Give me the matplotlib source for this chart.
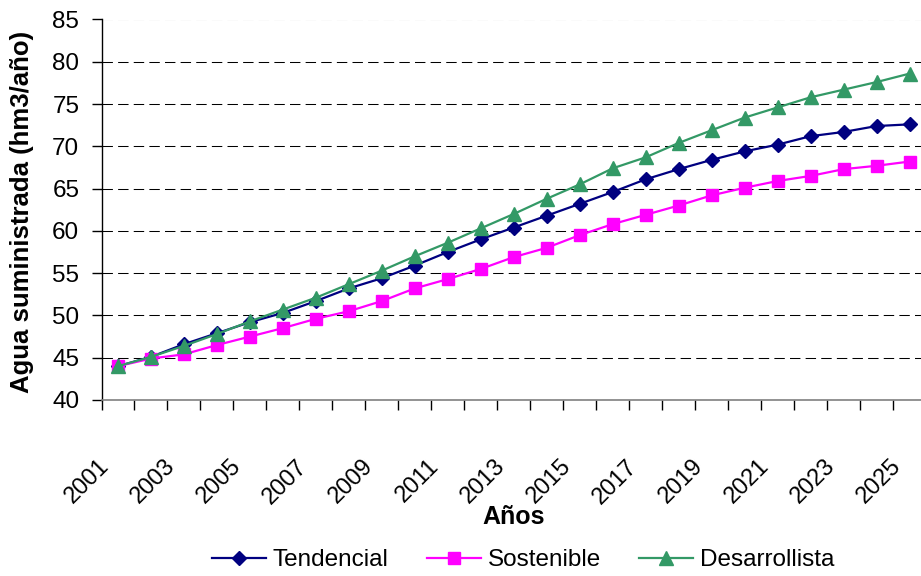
import matplotlib
matplotlib.use("Agg")
import matplotlib.pyplot as plt
from matplotlib.ticker import FixedLocator, NullFormatter
from matplotlib.transforms import ScaledTranslation

plt.rcParams["font.family"] = ["Liberation Sans", "DejaVu Sans"]

years = list(range(2001, 2026))
tendencial = [44.0, 45.1, 46.6, 47.9, 49.2, 50.3, 51.7, 53.2, 54.4, 55.9,
              57.5, 59.0, 60.4, 61.8, 63.2, 64.6, 66.1, 67.3, 68.4, 69.4,
              70.2, 71.2, 71.7, 72.4, 72.6]
sostenible = [44.0, 44.9, 45.4, 46.5, 47.5, 48.5, 49.6, 50.5, 51.7, 53.2,
              54.3, 55.5, 56.9, 58.0, 59.5, 60.8, 61.9, 63.0, 64.2, 65.1,
              65.9, 66.5, 67.3, 67.7, 68.2]
desarrollista = [44.0, 45.1, 46.4, 47.8, 49.3, 50.7, 52.1, 53.7, 55.3, 57.0,
                 58.6, 60.3, 62.0, 63.8, 65.5, 67.4, 68.7, 70.4, 71.9, 73.4,
                 74.6, 75.8, 76.7, 77.6, 78.6]
y_ticks = [40, 45, 50, 55, 60, 65, 70, 75, 80, 85]

W, H = 921, 576
fig = plt.figure(figsize=(W / 100, H / 100), dpi=100)
left, right, top, bottom = 101.5, 926.0, 19.5, 400.0
ax = fig.add_axes([left / W, 1 - bottom / H, (right - left) / W, (bottom - top) / H])

x = list(range(len(years)))
ax.plot(x, tendencial, color="#000080", lw=1.6, marker="D", ms=7.5, label="Tendencial", zorder=3)
ax.plot(x, sostenible, color="#FF00FF", lw=1.6, marker="s", ms=9, label="Sostenible", zorder=3)
ax.plot(x, desarrollista, color="#339966", lw=1.6, marker="^", ms=10, label="Desarrollista", zorder=3)

ax.set_xlim(-0.5, len(years) - 0.5)
ax.set_ylim(40, 85)
ax.set_yticks(y_ticks)
ax.yaxis.grid(True, color="black", lw=0.75, linestyle=(0, (10, 5)))
ax.set_axisbelow(True)

# category axis: ticks on the boundaries, a label every other year
ax.set_xticks(x[::2], [str(y) for y in years[::2]], rotation=45, ha="right",
              va="center", rotation_mode="anchor", fontsize=17)
ax.xaxis.set_minor_locator(FixedLocator([i - 0.5 for i in range(len(years) + 1)]))
ax.xaxis.set_minor_formatter(NullFormatter())
ax.tick_params(axis="x", which="major", length=0, pad=31)
ax.tick_params(axis="x", which="minor", length=7, width=1, color="black")
ax.tick_params(axis="y", length=7, width=1, pad=9, labelsize=17.5)

# nudge rotated year labels down-left, like the spreadsheet layout
shift = ScaledTranslation(-12 / 100, -20 / 100, fig.dpi_scale_trans)
for lab in ax.get_xticklabels():
    lab.set_transform(lab.get_transform() + shift)

for s in ["top", "right"]:
    ax.spines[s].set_visible(False)
ax.spines["left"].set_color("black")
ax.spines["bottom"].set_color("#808080")
ax.spines["left"].set_linewidth(1)
ax.spines["bottom"].set_linewidth(1.2)

ax.set_ylabel("Agua suministrada (hm3/año)", fontsize=18.5, fontweight="bold")
ax.yaxis.set_label_coords(-0.082, 0.493)
ax.set_xlabel("Años", fontsize=18, fontweight="bold")
ax.xaxis.set_label_coords(0.5, -0.275)

fig.legend(loc="center", bbox_to_anchor=(523 / W, 1 - 560 / H), ncol=3, frameon=False,
           fontsize=17.5, handlelength=2.25, handletextpad=0.27, columnspacing=1.55,
           borderaxespad=0)

fig.savefig("out.png", dpi=100)
